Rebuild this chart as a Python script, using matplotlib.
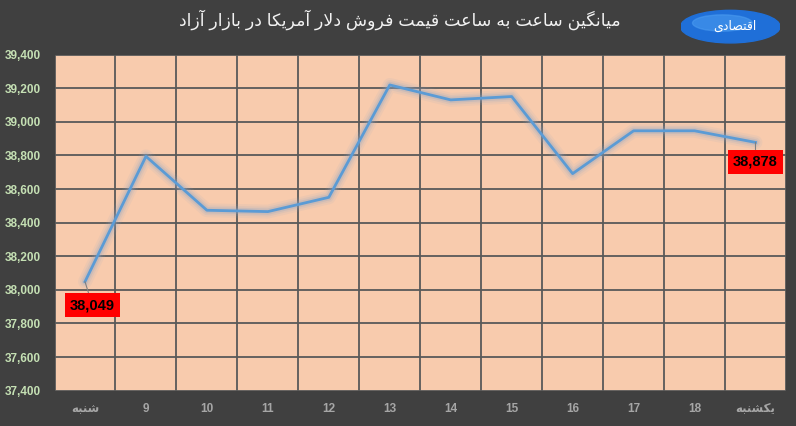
import numpy as np
import matplotlib
matplotlib.use('Agg')
import matplotlib.pyplot as plt
from matplotlib.patches import Ellipse

# data
days = ['شنبه', '9', '10', '11', '12', '13', '14', '15', '16', '17', '18', 'یکشنبه']
prices = [38049, 38795, 38474, 38466, 38551, 39220, 39131, 39151, 38692, 38947, 38947, 38878]
title = 'میانگین ساعت به ساعت قیمت فروش دلار آمریکا در بازار آزاد'
yticks = [37400, 37600, 37800, 38000, 38200, 38400, 38600, 38800, 39000, 39200, 39400]

# simple persian shaping (matplotlib has no bidi / joining)
FORMS = {
    'ا': (0xFE8D, 0xFE8E, None, None), 'آ': (0xFE81, 0xFE82, None, None),
    'ب': (0xFE8F, 0xFE90, 0xFE91, 0xFE92), 'ت': (0xFE95, 0xFE96, 0xFE97, 0xFE98),
    'د': (0xFEA9, 0xFEAA, None, None), 'ر': (0xFEAD, 0xFEAE, None, None),
    'ز': (0xFEAF, 0xFEB0, None, None), 'س': (0xFEB1, 0xFEB2, 0xFEB3, 0xFEB4),
    'ش': (0xFEB5, 0xFEB6, 0xFEB7, 0xFEB8), 'ص': (0xFEB9, 0xFEBA, 0xFEBB, 0xFEBC),
    'ع': (0xFEC9, 0xFECA, 0xFECB, 0xFECC),
    'ف': (0xFED1, 0xFED2, 0xFED3, 0xFED4), 'ق': (0xFED5, 0xFED6, 0xFED7, 0xFED8),
    'ل': (0xFEDD, 0xFEDE, 0xFEDF, 0xFEE0), 'م': (0xFEE1, 0xFEE2, 0xFEE3, 0xFEE4),
    'ن': (0xFEE5, 0xFEE6, 0xFEE7, 0xFEE8), 'ه': (0xFEE9, 0xFEEA, 0xFEEB, 0xFEEC),
    'و': (0xFEED, 0xFEEE, None, None), 'ی': (0xFBFC, 0xFBFD, 0xFBFE, 0xFBFF),
    'ک': (0xFB8E, 0xFB8F, 0xFB90, 0xFB91), 'گ': (0xFB92, 0xFB93, 0xFB94, 0xFB95),
}


def shape(s):
    if not any(c in FORMS for c in s):
        return s
    out = []
    i = 0
    n = len(s)
    while i < n:
        c = s[i]
        if c not in FORMS:
            out.append(c)
            i += 1
            continue
        prev = s[i - 1] if i > 0 else ''
        joins_prev = prev in FORMS and FORMS[prev][2] is not None
        # lam-alef ligature
        if c == 'ل' and i + 1 < n and s[i + 1] in 'اآ':
            if s[i + 1] == 'ا':
                out.append(chr(0xFEFC if joins_prev else 0xFEFB))
            else:
                out.append(chr(0xFEF6 if joins_prev else 0xFEF5))
            i += 2
            continue
        nxt = s[i + 1] if i + 1 < n else ''
        joins_next = FORMS[c][2] is not None and nxt in FORMS
        isol, fin, ini, med = FORMS[c]
        if joins_prev and joins_next:
            out.append(chr(med))
        elif joins_prev:
            out.append(chr(fin))
        elif joins_next:
            out.append(chr(ini))
        else:
            out.append(chr(isol))
        i += 1
    return ''.join(out)[::-1]


plt.rcParams['font.family'] = ['Liberation Sans', 'DejaVu Sans']

fig = plt.figure(figsize=(7.96, 4.26), dpi=100)
fig.patch.set_facecolor('#404040')
ax = fig.add_axes([0.0685, 0.0829, 0.9189, 0.7887])
ax.set_facecolor('#F8CBAD')

x = np.arange(len(days))

# soft glow under the line
for lw, a in [(10, 0.10), (7, 0.15), (4.5, 0.25)]:
    ax.plot(x, prices, color='#8FA6C4', lw=lw, alpha=a, solid_joinstyle='round',
            solid_capstyle='round', zorder=3)
ax.plot(x, prices, color='#5B9BD5', lw=2, zorder=4)

ax.set_xlim(-0.5, len(days) - 0.5)
ax.set_ylim(37400, 39400)
ax.set_yticks(yticks)
ax.set_yticklabels(['{:,}'.format(v) for v in yticks], color='#C5E0B4',
                   fontsize=8.5, fontweight='bold')
ax.set_xticks(x)
ax.set_xticklabels([shape(d) for d in days], color='#A6A6A6', fontsize=8.5,
                   fontweight='bold')
ax.tick_params(axis='both', length=0)
ax.tick_params(axis='x', pad=9)
ax.tick_params(axis='y', pad=9.7)

ax.set_xticks(np.arange(len(days) + 1) - 0.5, minor=True)
ax.tick_params(axis='x', which='minor', length=0)
ax.grid(True, axis='y', which='major', color='#595959', lw=1.3)
ax.grid(True, axis='x', which='minor', color='#595959', lw=1.3)
ax.grid(False, axis='x', which='major')
ax.set_axisbelow(True)
for sp in ax.spines.values():
    sp.set_visible(False)

# value labels for the first and last point
for i, dx, dy in [(0, 0.12, -140), (len(days) - 1, 0.0, -115)]:
    ax.annotate('{:,}'.format(prices[i]), xy=(x[i], prices[i]),
                xytext=(x[i] + dx, prices[i] + dy), ha='center', va='center',
                fontsize=10.5, fontweight='bold', color='black',
                bbox=dict(boxstyle='square,pad=0.35', fc='#FF0000', ec='none'),
                arrowprops=dict(arrowstyle='-', color='#808080', lw=0.8,
                                shrinkA=0, shrinkB=0), zorder=6)

fig.text(0.502, 0.953, shape(title), color='#F2F2F2', fontsize=12.5,
         ha='center', va='center')

# logo
lax = fig.add_axes([0.855, 0.895, 0.125, 0.085])
lax.set_xlim(0, 1)
lax.set_ylim(0, 1)
lax.axis('off')
lax.add_patch(Ellipse((0.5, 0.5), 1.0, 0.9, color='#1F6FD8'))
lax.add_patch(Ellipse((0.42, 0.6), 0.6, 0.45, color='#4A9BF0', alpha=0.6))
lax.text(0.55, 0.5, shape('اقتصادی'), color='white', fontsize=9,
         ha='center', va='center')

fig.savefig('out.png', dpi=100, facecolor=fig.get_facecolor())
